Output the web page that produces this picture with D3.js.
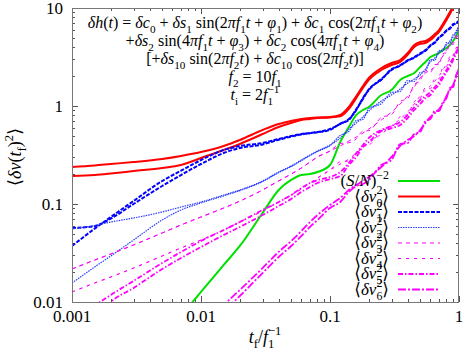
<!DOCTYPE html>
<html><head><meta charset="utf-8">
<script src="https://cdn.jsdelivr.net/npm/d3@7"></script>
<style>
body{margin:0;background:#fff} svg{display:block}
text{white-space:pre;font-family:"Liberation Serif","Times New Roman",Times,"DejaVu Serif",serif;fill:#000}
</style>
</head><body>
<svg id="c" width="463" height="353"></svg>
<script>
// ---------- data ----------
const tGrid = [0.001,0.0015,0.002,0.003,0.005,0.007,0.01,0.015,0.02,0.03,0.04,0.05,0.06,0.07,0.08,0.1,0.12,0.14,0.16,0.18,0.2,0.25,0.3,0.35,0.4,0.45,0.5,0.55,0.6,0.65,0.7,0.75,0.8,0.85,0.9,0.95,1.0];
const snr  = [null,null,null,null,null,0.0072,0.0127,0.0239,0.0373,0.081,0.139,0.176,0.198,0.202,0.212,0.250,0.429,0.611,0.810,0.910,0.977,1.295,1.457,1.842,2.023,2.171,2.500,2.812,3.162,3.315,3.474,3.728,3.907,4.193,4.606,5.180,5.964];
const dv0a = [0.239,0.247,0.256,0.268,0.288,0.309,0.339,0.391,0.450,0.569,0.655,0.703,0.737,0.754,0.763,0.772,0.810,0.977,1.265,1.600,1.931,2.442,2.747,2.948,3.474,4.193,4.498,4.606,4.942,5.429,5.964,6.866,7.907,9.104,10.48,12.07,13.58];
const dv0b = [0.193,0.198,0.205,0.217,0.233,0.250,0.295,0.356,0.410,0.518,0.611,0.671,0.720,0.737,0.754,0.763,0.785,0.935,1.21,1.53,1.85,2.33,2.62,2.82,3.32,4.00,4.30,4.40,4.72,5.19,5.70,6.56,7.56,8.70,10.0,11.5,13.0];
const dv1a = [0.0373,0.0561,0.0737,0.1073,0.1717,0.2187,0.2812,0.3556,0.3907,0.4193,0.4606,0.4942,0.518,0.5302,0.5429,0.5825,0.6551,0.737,0.9103,1.207,1.457,1.886,2.330,2.620,2.879,3.162,3.393,3.728,4.095,4.498,4.942,5.429,5.825,6.252,6.709,7.030,7.367];
const dv1b = [0.0569,0.0596,0.0711,0.100,0.1527,0.1976,0.2559,0.3315,0.3727,0.405,0.452,0.487,0.512,0.528,0.540,0.570,0.660,0.720,0.930,1.180,1.480,1.850,2.380,2.570,2.930,3.100,3.450,3.660,4.170,4.410,5.030,5.330,5.930,6.140,6.830,6.950,7.450];
const dv2a = [0.0556,0.0603,0.0655,0.0720,0.0829,0.0932,0.1048,0.1235,0.1389,0.1717,0.2121,0.2442,0.2812,0.3162,0.3474,0.3999,0.4716,0.5825,0.6706,0.7724,0.8892,1.125,1.295,1.491,1.717,1.886,2.072,2.385,2.812,3.090,3.474,3.816,4.193,4.606,5.060,5.800,6.600];
const dv2b = [0.0156,0.0228,0.0295,0.0429,0.0687,0.0869,0.1024,0.121,0.137,0.169,0.209,0.241,0.277,0.312,0.343,0.395,0.500,0.550,0.710,0.730,0.940,1.060,1.370,1.410,1.820,1.780,2.190,2.250,2.970,2.920,3.670,3.610,4.430,4.360,5.350,5.500,6.800];
const dv3a = [0.0217,0.0268,0.0309,0.0382,0.0506,0.0611,0.0737,0.0910,0.107,0.139,0.172,0.202,0.233,0.268,0.302,0.347,0.391,0.439,0.483,0.530,0.583,0.720,0.869,1.048,1.265,1.563,1.931,2.171,2.330,2.500,2.812,3.237,3.728,4.095,4.498,4.942,5.429];
const dv3b = [0.0217,0.0268,0.0309,0.0382,0.0506,0.0611,0.0737,0.0910,0.107,0.139,0.172,0.202,0.233,0.268,0.302,0.347,0.415,0.422,0.462,0.555,0.560,0.763,0.817,1.110,1.190,1.657,1.815,2.300,2.190,2.650,2.640,3.430,3.500,4.340,4.230,5.240,5.100];
const dv4a = [0.01265,0.01563,0.0180,0.0222,0.0295,0.0356,0.0429,0.0543,0.0655,0.0848,0.1048,0.1235,0.1423,0.1638,0.1842,0.2223,0.256,0.288,0.331,0.373,0.419,0.518,0.625,0.737,0.869,1.048,1.265,1.457,1.600,1.799,2.023,2.330,2.683,3.017,3.315,3.728,4.193];
const dv4b = [0.01265,0.01563,0.0180,0.0222,0.0295,0.0356,0.0429,0.0543,0.0655,0.0848,0.1048,0.1235,0.1423,0.1638,0.1842,0.2223,0.270,0.275,0.318,0.390,0.400,0.550,0.590,0.780,0.820,1.110,1.190,1.540,1.500,1.910,1.900,2.470,2.520,3.200,3.120,3.950,3.940];
const dv5a = [0.00518,0.0091,0.0118,0.0164,0.025,0.0324,0.0419,0.0543,0.0655,0.0869,0.1048,0.1235,0.1457,0.1638,0.1758,0.1886,0.2121,0.262,0.331,0.400,0.472,0.569,0.625,0.687,0.810,0.977,1.151,1.265,1.389,1.563,1.758,2.023,2.330,2.683,3.090,3.556,4.095];
const dv5b = [0.00364,0.00655,0.01,0.0139,0.0217,0.0281,0.0364,0.0483,0.0583,0.0772,0.0954,0.1125,0.1326,0.1491,0.1638,0.1799,0.1931,0.250,0.302,0.382,0.429,0.556,0.596,0.640,0.754,0.910,1.048,1.207,1.295,1.491,1.638,1.931,2.223,2.500,2.948,3.393,3.907];
const dv6a = [null,null,null,null,null,null,0.00543,0.00932,0.01326,0.0222,0.0324,0.0419,0.0530,0.0655,0.0772,0.0977,0.1151,0.139,0.1563,0.172,0.1886,0.2385,0.302,0.391,0.4498,0.4942,0.569,0.6706,0.7724,0.8484,0.932,1.048,1.265,1.457,1.638,1.976,2.442];
const dv6b = [null,null,null,null,null,null,0.0041,0.00791,0.01151,0.01976,0.0288,0.0373,0.0472,0.0583,0.0687,0.0910,0.1048,0.1326,0.1527,0.160,0.1758,0.250,0.281,0.4095,0.419,0.518,0.543,0.703,0.737,0.889,0.889,1.099,1.207,1.527,1.563,2.072,2.330];

const xTicks = [0.001,0.01,0.1,1];
const xTickLabels = ["0.001","0.01","0.1","1"];
const yTicks = [0.01,0.1,1,10];
const yTickLabels = ["0.01","0.1","1","10"];
const legendLabels = ["(S/N)^{−2}","\\langleδv^2_0\\rangle","\\langleδv^2_1\\rangle","\\langleδv^2_2\\rangle","\\langleδv^2_3\\rangle","\\langleδv^2_4\\rangle","\\langleδv^2_5\\rangle","\\langleδv^2_6\\rangle"];
const eqLines = [
  "δh(t) = δc_0 + δs_1 \\sin(2πf_1t + φ_1) + δc_1 \\cos(2πf_1t + φ_2)",
  "+δs_2 \\sin(4πf_1t + φ_3) + δc_2 \\cos(4πf_1t + φ_4)",
  "[+δs_{10} \\sin(2πf_2t) + δc_{10} \\cos(2πf_2t)]",
  "f_2 = 10f_1",
  "t_i = 2f_1^{−1}"
];
const xTitle = "t_f/f_1^{−1}";
const yTitle = "\\langleδv(t_f)^2\\rangle";

// ---------- styles ----------
const styles = [
  {color:"#00e000", w:2,   dash:null},
  {color:"#ff0000", w:2,   dash:null},
  {color:"#0000ff", w:2,   dash:"4,1.5"},
  {color:"#2a3cff", w:1.2, dash:"1.5,1"},
  {color:"#ff00ff", w:1,   dash:"4,4"},
  {color:"#ff00ff", w:1,   dash:"3,5"},
  {color:"#ff00ff", w:1.8, dash:"5,2,1.5,2"},
  {color:"#ff00ff", w:1.8, dash:"8,2,2,2"}
];
const seriesGroups = [[snr],[dv0a,dv0b],[dv1a,dv1b],[dv2a,dv2b],[dv3a,dv3b],[dv4a,dv4b],[dv5a,dv5b],[dv6a,dv6b]];

const svg = d3.select("#c");
const L=72,R=459,T=8,B=302;
const x = d3.scaleLog().domain([0.001,1]).range([L,R]);
const y = d3.scaleLog().domain([0.01,10]).range([B,T]);

function tex(sel, src, fs){
  const re = /\\(sin|cos|langle|rangle)|([_^])(?:\{([^}]*)\}|(.))|([A-Za-zδπφ])|([^A-Za-zδπφ_^\\]+)/g;
  let m, off=0, last=null;
  while((m=re.exec(src))!==null){
    if(m[2]){
      const body = m[3]!==undefined?m[3]:m[4];
      const target = m[2]==='_'?0.3*fs:-0.42*fs;
      const t = sel.append("tspan").style("font-size",(fs*0.7).toFixed(2)+"px").style("font-style","normal")
        .attr("dy",(target-off).toFixed(2)).text(body);
      if(last) t.attr("dx",(-last.node().getComputedTextLength()).toFixed(2));
      off=target; last=t; continue;
    }
    last=null;
    let txt, it=false;
    if(m[1]) txt={sin:"sin",cos:"cos",langle:"⟨",rangle:"⟩"}[m[1]];
    else if(m[5]){txt=m[5]; it=true;}
    else txt=m[6];
    const t = sel.append("tspan").style("font-style",it?"italic":"normal").text(txt);
    if(off){t.attr("dy",(-off).toFixed(2)); off=0;}
  }
}

// clip
svg.append("clipPath").attr("id","clip").append("rect").attr("x",L).attr("y",T).attr("width",R-L).attr("height",B-T);

// ticks
const tickCol="#555";
const gT = svg.append("g").attr("stroke",tickCol).attr("stroke-width",1);
const xMinor=[], yMinor=[];
[0.001,0.01,0.1].forEach(d=>{for(let k=2;k<=9;k++) xMinor.push(d*k);});
[0.01,0.1,1].forEach(d=>{for(let k=2;k<=9;k++) yMinor.push(d*k);});
xMinor.forEach(v=>{const p=Math.round(x(v))+0.5;
  gT.append("line").attr("x1",p).attr("x2",p).attr("y1",B).attr("y2",B-3);
  gT.append("line").attr("x1",p).attr("x2",p).attr("y1",T).attr("y2",T+3);});
xTicks.forEach(v=>{const p=Math.round(x(v))+0.5;
  gT.append("line").attr("x1",p).attr("x2",p).attr("y1",B).attr("y2",B-6);
  gT.append("line").attr("x1",p).attr("x2",p).attr("y1",T).attr("y2",T+6);});
yMinor.forEach(v=>{const p=Math.round(y(v))+0.5;
  gT.append("line").attr("x1",L).attr("x2",L+3).attr("y1",p).attr("y2",p);
  gT.append("line").attr("x1",R).attr("x2",R-3).attr("y1",p).attr("y2",p);});
yTicks.forEach(v=>{const p=Math.round(y(v))+0.5;
  gT.append("line").attr("x1",L).attr("x2",L+6).attr("y1",p).attr("y2",p);
  gT.append("line").attr("x1",R).attr("x2",R-6).attr("y1",p).attr("y2",p);});

// curves
const line = d3.line().defined(d=>d[1]!=null).x(d=>x(d[0])).y(d=>y(d[1])).curve(d3.curveMonotoneX);
const gC = svg.append("g").attr("clip-path","url(#clip)");
seriesGroups.forEach((grp,i)=>{
  const s=styles[i];
  grp.forEach(arr=>{
    gC.append("path").datum(tGrid.map((t,j)=>[t,arr[j]])).attr("d",line)
      .attr("fill","none").attr("stroke",s.color).attr("stroke-width",s.w)
      .attr("stroke-dasharray",s.dash).attr("stroke-linejoin","round");
  });
});

// frame
svg.append("rect").attr("x",L+0.5).attr("y",T+0.5).attr("width",R-L-1).attr("height",B-T)
  .attr("fill","none").attr("stroke","#777").attr("stroke-width",1);

// tick labels
xTicks.forEach((v,i)=>svg.append("text").attr("x",x(v)).attr("y",322).attr("text-anchor","middle")
  .style("font-size","17px").text(xTickLabels[i]));
yTicks.forEach((v,i)=>svg.append("text").attr("x",63).attr("y",y(v)+6).attr("text-anchor","end")
  .style("font-size","17px").text(yTickLabels[i]));

// axis titles
tex(svg.append("text").attr("x",265).attr("y",343).attr("text-anchor","middle").style("font-size","18px"), xTitle, 18);
tex(svg.append("text").attr("transform","translate(21,157) rotate(-90)").attr("text-anchor","middle").style("font-size","18px"), yTitle, 18);

// equation block
eqLines.forEach((s,i)=>{
  tex(svg.append("text").attr("x",255).attr("y",28+i*18).attr("text-anchor","middle").style("font-size","16px"), s, 16);
});

// legend
legendLabels.forEach((lab,i)=>{
  const cy = 181 + i*15.5;
  tex(svg.append("text").attr("x",389).attr("y",cy+5).attr("text-anchor","end").style("font-size","17px"), lab, 17);
  const s=styles[i];
  svg.append("line").attr("x1",398).attr("x2",440).attr("y1",cy).attr("y2",cy)
    .attr("stroke",s.color).attr("stroke-width",s.w).attr("stroke-dasharray",s.dash);
});
</script>
</body></html>
